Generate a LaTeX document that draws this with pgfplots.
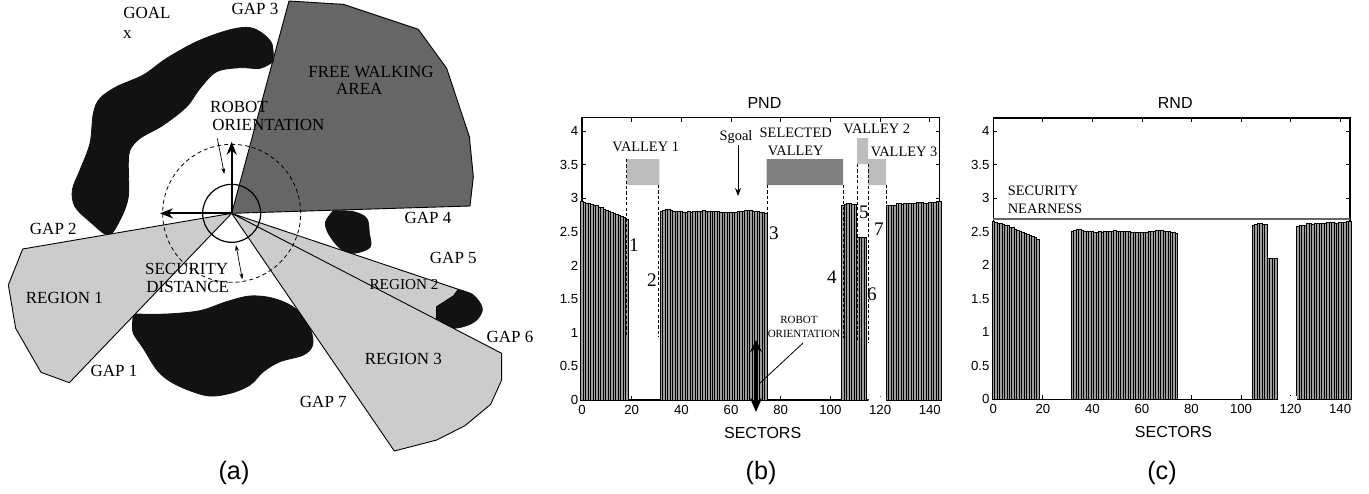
\documentclass[border=0pt]{standalone}
\usepackage{fontspec}
\usepackage{pgfplots}
\pgfplotsset{compat=1.18}
\usepackage{pgfplotstable}
\usetikzlibrary{arrows.meta}
\setmainfont{Liberation Serif}
\newfontfamily\sansf{Liberation Sans}
\newcommand{\ser}{\fontsize{8.5}{9}\selectfont}
\newcommand{\serb}{\fontsize{7.2}{8}\selectfont}
\newcommand{\sersm}{\fontsize{7.6}{8}\selectfont}
\newcommand{\sertiny}{\fontsize{5.5}{6}\selectfont}
\newcommand{\digit}{\fontsize{9.6}{10}\selectfont}
\newcommand{\capf}{\sansf\fontsize{12.6}{13}\selectfont}
\definecolor{obst}{gray}{0.07}
\definecolor{freearea}{gray}{0.4}
\definecolor{regiongray}{gray}{0.8}
\definecolor{valley}{gray}{0.74}
\definecolor{selvalley}{gray}{0.5}
\definecolor{secline}{gray}{0.4}
\definecolor{barfill}{gray}{0.62}

\pgfplotstableread{
s v
0 2.95
1 2.945
2 2.93
3 2.92
4 2.91
5 2.90
6 2.89
7 2.87
8 2.86
9 2.84
10 2.82
11 2.81
12 2.79
13 2.77
14 2.76
15 2.74
16 2.73
17 2.71
18 2.69
32 2.80
33 2.82
34 2.83
35 2.83
36 2.82
37 2.81
38 2.81
39 2.80
40 2.80
41 2.79
42 2.79
43 2.80
44 2.79
45 2.80
46 2.81
47 2.81
48 2.81
49 2.82
50 2.81
51 2.81
52 2.80
53 2.80
54 2.80
55 2.80
56 2.79
57 2.79
58 2.79
59 2.79
60 2.79
61 2.79
62 2.79
63 2.80
64 2.81
65 2.81
66 2.82
67 2.82
68 2.82
69 2.81
70 2.80
71 2.80
72 2.79
73 2.79
74 2.78
105 2.90
106 2.91
107 2.92
108 2.92
109 2.91
110 2.91
111 2.42
112 2.42
113 2.42
114 2.42
123 2.89
124 2.89
125 2.90
126 2.90
127 2.92
128 2.92
129 2.91
130 2.92
131 2.92
132 2.92
133 2.93
134 2.93
135 2.94
136 2.94
137 2.94
138 2.93
139 2.93
140 2.94
141 2.94
142 2.94
143 2.95
144 2.95
}\pndtable

\pgfplotstableread{
s v
0 2.65
1 2.645
2 2.63
3 2.62
4 2.61
5 2.60
6 2.59
7 2.57
8 2.56
9 2.54
10 2.52
11 2.51
12 2.49
13 2.47
14 2.46
15 2.44
16 2.43
17 2.41
18 2.39
32 2.50
33 2.52
34 2.53
35 2.53
36 2.52
37 2.51
38 2.51
39 2.50
40 2.50
41 2.49
42 2.49
43 2.50
44 2.49
45 2.50
46 2.51
47 2.51
48 2.51
49 2.52
50 2.51
51 2.51
52 2.50
53 2.50
54 2.50
55 2.50
56 2.49
57 2.49
58 2.49
59 2.49
60 2.49
61 2.49
62 2.49
63 2.50
64 2.51
65 2.51
66 2.52
67 2.52
68 2.52
69 2.51
70 2.50
71 2.50
72 2.49
73 2.49
74 2.48
105 2.60
106 2.61
107 2.62
108 2.62
109 2.61
110 2.61
111 2.10
112 2.10
113 2.10
114 2.10
123 2.58
124 2.59
125 2.60
126 2.60
127 2.62
128 2.62
129 2.61
130 2.62
131 2.62
132 2.62
133 2.63
134 2.63
135 2.64
136 2.64
137 2.64
138 2.63
139 2.63
140 2.64
141 2.64
142 2.64
143 2.65
144 2.65
}\rndtable

\pgfplotsset{
  panel/.style={
    scale only axis, anchor=south west, clip=false,
    xmin=0, xmax=144, ymin=0, ymax=4.2,
    xtick={0,20,...,140},
    ytick={0,0.5,1,1.5,2,2.5,3,3.5,4},
    yticklabels={0,0.5,1,1.5,2,2.5,3,3.5,4},
    tick align=inside, major tick length=2pt,
    tick style={black,line width=0.4pt},
    tick pos=both,
    axis line style={line width=0.75pt},
    /pgf/number format/assume math mode=true,
    tick label style={font=\sansf\fontsize{6.6}{8}\selectfont},
    xticklabel style={yshift=0.8pt},
    yticklabel style={xshift=1.6pt},
    title style={font=\sansf\fontsize{8}{9}\selectfont, anchor=base, at={(0.51,1)}, yshift=-1.4pt},
    xlabel style={font=\sansf\fontsize{8}{9}\selectfont, anchor=base, at={(0.505,0)}, yshift=-19pt},
    xlabel={SECTORS},
  },
  sectorbars/.style={ybar, bar width=1, fill=barfill, draw=black, line width=0.42pt},
  overlay/.style={
    scale only axis, anchor=south west, at={(0pt,0pt)},
    width=684.5pt, height=246.5pt, hide axis, clip=false, y dir=reverse,
    xmin=0, ymin=0,
  },
}

\begin{document}
\begin{tikzpicture}[x=1pt,y=1pt]
\useasboundingbox (0pt,0pt) rectangle (684.5pt,246.5pt);

% (b) PND
\begin{axis}[panel, at={(291pt,46.5pt)}, width=178.85pt, height=141.15pt, title={PND}]
\addplot[sectorbars] table[x=s,y=v] {\pndtable};
\end{axis}

% (c) RND
\begin{axis}[panel, at={(496.65pt,46.85pt)}, width=178.35pt, height=140.65pt, title={RND}]
\addplot[sectorbars] table[x=s,y=v] {\rndtable};
\addplot[secline, line width=0.9pt] coordinates {(0,2.69) (144,2.69)};
\end{axis}

% (a) diagram, coordinates in 1/3 pixel
\begin{axis}[overlay, xmax=4107, ymax=1479]
\addplot[fill=freearea, draw=black, line width=0.45pt] coordinates {(695,640) (867,3) (1030,13) (1255,88) (1340,205) (1408,410) (1420,530) (1410,618) (695,640)};
\addplot[fill=obst, draw=obst, smooth, tension=0.55] coordinates {(820,185) (815,130) (780,95) (740,82) (680,92) (590,125) (500,175) (430,225) (350,260) (300,295) (280,340) (270,430) (240,510) (217,570) (225,620) (270,665) (325,705) (360,660) (385,590) (385,490) (390,450) (420,415) (490,375) (560,320) (600,265) (650,215) (720,203) (780,205) (820,185)};
\addplot[fill=obst, draw=obst, smooth, tension=0.55] coordinates {(1000,632) (1060,635) (1100,655) (1108,700) (1110,742) (1060,760) (1020,745) (985,700) (977,665) (1000,632)};
\addplot[fill=obst, draw=obst, smooth, tension=0.55] coordinates {(400,942) (500,942) (600,932) (680,905) (750,888) (820,895) (885,925) (930,985) (938,1035) (910,1065) (840,1085) (790,1115) (750,1155) (690,1180) (620,1187) (530,1155) (475,1115) (430,1045) (400,1000) (398,965) (400,942)};
\addplot[fill=obst, draw=obst, smooth, tension=0.55] coordinates {(1375,868) (1420,885) (1447,925) (1430,960) (1390,980) (1340,985) (1310,965) (1310,920) (1375,868)};
\addplot[fill=regiongray, draw=black, line width=0.45pt] coordinates {(695,640) (68,747) (25,855) (47,985) (123,1117) (208,1148) (695,640)};
\addplot[fill=regiongray, draw=black, line width=0.45pt] coordinates {(695,640) (1375,868) (1360,888) (1310,920) (1310,965) (695,640)};
\addplot[fill=regiongray, draw=black, line width=0.45pt] coordinates {(695,640) (1505,1060) (1505,1140) (1472,1213) (1395,1277) (1310,1320) (1183,1353) (695,640)};
\addplot[only marks, mark=o, mark size=34.5pt, mark options={draw=black, line width=0.4pt, dash pattern=on 2pt off 1.5pt}] coordinates {(695,640)};
\addplot[only marks, mark=o, mark size=14.5pt, mark options={draw=black, line width=0.6pt, solid}] coordinates {(695,640)};
\addplot[black, line width=1pt, -{Stealth[length=6.5pt,width=5pt]}] coordinates {(695,640) (695,425)};
\addplot[black, line width=1pt, -{Stealth[length=6.5pt,width=5pt]}] coordinates {(695,640) (480,640)};
\addplot[black, line width=0.35pt, -{Stealth[length=3pt,width=2pt]}] coordinates {(652,415) (673,522)};
\addplot[black, line width=0.35pt, {Stealth[length=3pt,width=2pt]}-{Stealth[length=3pt,width=2pt]}] coordinates {(708,735) (727,838)};
\node[font=\ser] at (axis cs:441,40) {GOAL};
\node[font=\ser] at (axis cs:382,103) {x};
\node[font=\ser] at (axis cs:765,28) {GAP 3};
\node[font=\ser] at (axis cs:1113,215) {FREE WALKING};
\node[font=\ser] at (axis cs:1078,268) {AREA};
\node[font=\ser] at (axis cs:717,322) {ROBOT};
\node[font=\ser] at (axis cs:805,375) {ORIENTATION};
\node[font=\ser] at (axis cs:1284,655) {GAP 4};
\node[font=\ser] at (axis cs:160,688) {GAP 2};
\node[font=\ser] at (axis cs:1360,775) {GAP 5};
\node[font=\sersm] at (axis cs:1212,853) {REGION 2};
\node[font=\ser] at (axis cs:560,808) {SECURITY};
\node[font=\ser] at (axis cs:563,862) {DISTANCE};
\node[font=\ser] at (axis cs:193,895) {REGION 1};
\node[font=\ser] at (axis cs:1530,1012) {GAP 6};
\node[font=\ser] at (axis cs:342,1112) {GAP 1};
\node[font=\ser] at (axis cs:1210,1078) {REGION 3};
\node[font=\ser] at (axis cs:970,1207) {GAP 7};
\node[font=\capf] at (axis cs:702,1418) {(a)};
\end{axis}

% annotations over (b) and (c), coordinates in pixels
\begin{axis}[overlay, xmax=1369, ymax=493]
\addplot[fill=valley, draw=none] coordinates {(626.7,159) (659.3,159) (659.3,185) (626.7,185) (626.7,159)};
\addplot[fill=selvalley, draw=none] coordinates {(766.7,159) (843,159) (843,185) (766.7,185) (766.7,159)};
\addplot[fill=valley, draw=none] coordinates {(857,138) (868,138) (868,164) (857,164) (857,138)};
\addplot[fill=valley, draw=none] coordinates {(868,159) (886,159) (886,185) (868,185) (868,159)};
\pgfplotsset{dashline/.style={black, line width=0.45pt, dash pattern=on 1.6pt off 1.1pt}}
\addplot[dashline] coordinates {(626.7,159) (626.7,337)};
\addplot[dashline] coordinates {(658.7,185) (658.7,337)};
\addplot[dashline] coordinates {(767,185) (767,338)};
\addplot[dashline] coordinates {(843,185) (843,338)};
\addplot[dashline] coordinates {(857,164) (857,340)};
\addplot[dashline] coordinates {(868,164) (868,343)};
\addplot[dashline] coordinates {(886,185) (886,207)};
\addplot[black, line width=0.5pt, -{Stealth[length=4pt,width=3pt]}] coordinates {(738,145) (738,196)};
\addplot[black, line width=1.8pt, {Stealth[length=6pt,width=6pt]}-{Stealth[length=7pt,width=6pt]}] coordinates {(756,340) (756,412)};
\addplot[black, line width=0.4pt] coordinates {(803,343) (760,383)};
\addplot[fill=white, draw=none] coordinates {(868.5,396.5) (886.2,396.5) (886.2,402) (868.5,402) (868.5,396.5)};
\addplot[fill=white, draw=none] coordinates {(1278,396) (1296.8,396) (1296.8,402) (1278,402) (1278,396)};
\node[font=\serb] at (axis cs:645.7,147) {VALLEY 1};
\node[font=\serb] at (axis cs:736,137) {Sgoal};
\node[font=\serb] at (axis cs:795.7,133) {SELECTED};
\node[font=\serb] at (axis cs:795.7,151) {VALLEY};
\node[font=\serb] at (axis cs:876.7,129) {VALLEY 2};
\node[font=\serb] at (axis cs:904,152) {VALLEY 3};
\node[font=\digit] at (axis cs:864,212) {5};
\node[font=\digit] at (axis cs:879,229) {7};
\node[font=\digit] at (axis cs:774,233) {3};
\node[font=\digit] at (axis cs:634,245) {1};
\node[font=\digit] at (axis cs:652,280) {2};
\node[font=\digit] at (axis cs:832,277) {4};
\node[font=\digit] at (axis cs:872,294) {6};
\node[font=\sertiny] at (axis cs:799,320) {ROBOT};
\node[font=\sertiny] at (axis cs:804,334) {ORIENTATION};
\node[font=\serb] at (axis cs:1043,191) {SECURITY};
\node[font=\serb] at (axis cs:1045,209) {NEARNESS};
\node[font=\capf] at (axis cs:761,473) {(b)};
\node[font=\capf] at (axis cs:1162,473) {(c)};
\end{axis}
\end{tikzpicture}
\end{document}
